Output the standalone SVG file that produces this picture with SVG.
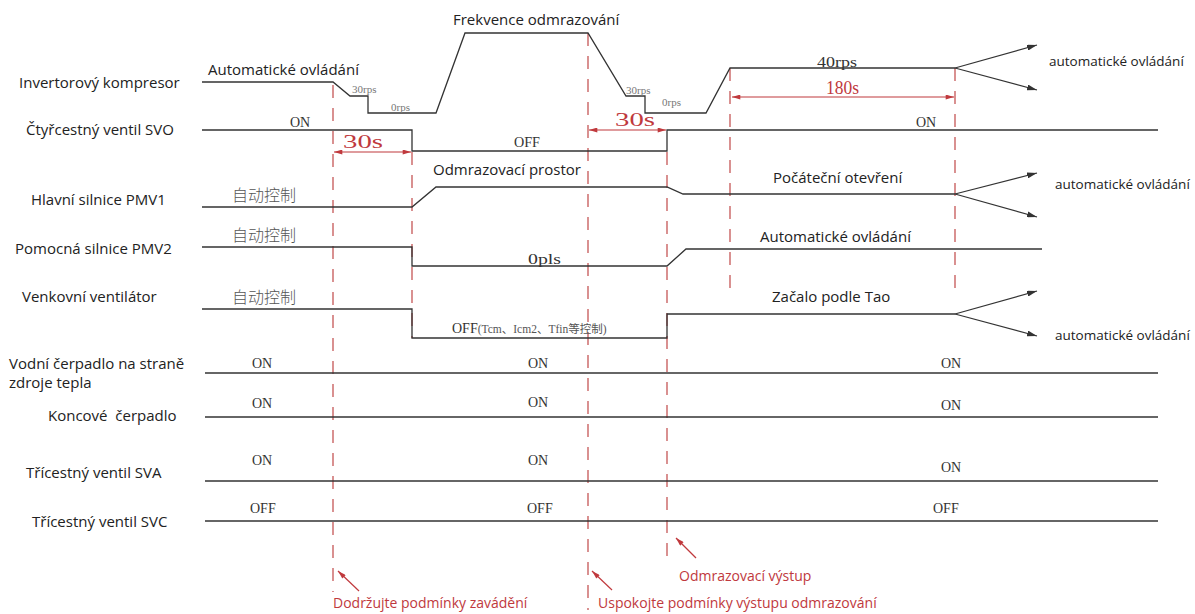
<svg xmlns="http://www.w3.org/2000/svg" width="1195" height="614" viewBox="0 0 1195 614">
<defs>
<style>
.lbl{font-family:"Open Sans","Liberation Sans",sans-serif;font-size:15px;fill:#222}
.sig{font-family:"Open Sans","Liberation Sans",sans-serif;font-size:15px;fill:#222}
.auto{font-family:"Open Sans","Liberation Sans",sans-serif;font-size:13.5px;fill:#222}
.ser{font-family:"Liberation Serif",serif;font-size:14px;fill:#333}
.sm{font-family:"Liberation Serif",serif;font-size:11px;fill:#777}
.cjk{font-family:"Noto Sans CJK SC",sans-serif;font-size:16px;fill:#555;font-weight:300}
.red{font-family:"Liberation Serif",serif;font-size:18px;fill:#c0393d}
.redt{font-family:"Open Sans","Liberation Sans",sans-serif;font-size:14px;fill:#c0393d}
.w{fill:none;stroke:#333;stroke-width:1.3}
.dash{fill:none;stroke:#c04848;stroke-width:1.2;stroke-dasharray:13 10}
.ra{fill:none;stroke:#c0393d;stroke-width:1.2}
.br{fill:none;stroke:#333;stroke-width:1.2;marker-end:url(#ah)}
</style>
<marker id="ah" viewBox="0 0 10 6" refX="10" refY="3" markerWidth="10" markerHeight="6" markerUnits="userSpaceOnUse" orient="auto">
<path d="M0,0 L10,3 L0,6 Z" fill="#333"/>
</marker>
<marker id="rh" viewBox="0 0 10 6" refX="10" refY="3" markerWidth="9" markerHeight="5" markerUnits="userSpaceOnUse" orient="auto-start-reverse">
<path d="M0,0 L10,3 L0,6 Z" fill="#c0393d"/>
</marker>
</defs>
<rect width="1195" height="614" fill="#fff"/>

<g id="labels">
<text class="lbl" x="19" y="88">Invertorový kompresor</text>
<text class="lbl" x="26" y="135">Čtyřcestný ventil SVO</text>
<text class="lbl" x="31" y="205">Hlavní silnice PMV1</text>
<text class="lbl" x="15" y="254">Pomocná silnice PMV2</text>
<text class="lbl" x="22" y="302">Venkovní ventilátor</text>
<text class="lbl" x="9" y="369">Vodní čerpadlo na straně</text>
<text class="lbl" x="9" y="388">zdroje tepla</text>
<text class="lbl" x="48" y="421" xml:space="preserve">Koncové  čerpadlo</text>
<text class="lbl" x="26" y="478">Třícestný ventil SVA</text>
<text class="lbl" x="32" y="527">Třícestný ventil SVC</text>
</g>

<g id="markers-time">
<line class="dash" x1="333" y1="85" x2="333" y2="592"/>
<line class="dash" x1="412" y1="152" x2="412" y2="338"/>
<line class="dash" x1="588" y1="33" x2="588" y2="610"/>
<line class="dash" x1="667" y1="152" x2="667" y2="565"/>
<line class="dash" x1="730" y1="68" x2="730" y2="288"/>
<line class="dash" x1="955" y1="68" x2="955" y2="290"/>
</g>

<g id="compressor">
<polyline class="w" points="202,82 333,82 350,96 368,96 368,113 436,113 465,33 588,33 626,96 645,96 645,113 706,113 730,68 955,68"/>
<line class="br" x1="955" y1="68" x2="1037" y2="45"/>
<line class="br" x1="955" y1="68" x2="1037" y2="90"/>
<text class="sig" x="208" y="75">Automatické ovládání</text>
<text class="sm" x="352" y="93">30rps</text>
<text class="sm" x="391" y="111">0rps</text>
<text class="sig" x="453" y="25">Frekvence odmrazování</text>
<text class="sm" x="626" y="94">30rps</text>
<text class="sm" x="662" y="106">0rps</text>
<text class="ser" x="817" y="67" font-size="17" textLength="40" lengthAdjust="spacingAndGlyphs">40rps</text>
<text class="red" x="826" y="94" font-size="17" textLength="33" lengthAdjust="spacingAndGlyphs">180s</text>
<line class="ra" x1="732" y1="97" x2="954" y2="97" marker-start="url(#rh)" marker-end="url(#rh)"/>
<text class="auto" x="1049" y="66">automatické ovládání</text>
</g>

<g id="svo">
<polyline class="w" points="202,130 412,130 412,151 667,151 667,130 1158,130"/>
<text class="ser" x="290" y="127">ON</text>
<text class="ser" x="514" y="147" textLength="26" lengthAdjust="spacingAndGlyphs">OFF</text>
<text class="ser" x="916" y="127">ON</text>
<text class="red" x="343" y="148" textLength="40" lengthAdjust="spacingAndGlyphs">30s</text>
<line class="ra" x1="334" y1="152" x2="411" y2="152" marker-start="url(#rh)" marker-end="url(#rh)"/>
<text class="red" x="615" y="126" textLength="40" lengthAdjust="spacingAndGlyphs">30s</text>
<line class="ra" x1="589" y1="130" x2="666" y2="130" marker-start="url(#rh)" marker-end="url(#rh)"/>
</g>

<g id="pmv1">
<polyline class="w" points="202,207 412,207 436,187 667,187 683,194 955,194"/>
<line class="br" x1="955" y1="194" x2="1037" y2="173"/>
<line class="br" x1="955" y1="194" x2="1037" y2="217"/>
<text class="cjk" x="232" y="201">自动控制</text>
<text class="sig" x="433" y="175">Odmrazovací prostor</text>
<text class="sig" x="773" y="183">Počáteční otevření</text>
<text class="auto" x="1055" y="189">automatické ovládání</text>
</g>

<g id="pmv2">
<polyline class="w" points="202,247 412,247 412,266 667,266 686,249 1042,249"/>
<text class="cjk" x="232" y="241">自动控制</text>
<text class="ser" x="528" y="264" font-size="16" textLength="33" lengthAdjust="spacingAndGlyphs">0pls</text>
<text class="sig" x="760" y="242">Automatické ovládání</text>
</g>

<g id="fan">
<polyline class="w" points="202,309 412,309 412,338 667,338 667,314 955,314"/>
<line class="br" x1="955" y1="314" x2="1037" y2="291"/>
<line class="br" x1="955" y1="314" x2="1037" y2="336"/>
<text class="cjk" x="232" y="303">自动控制</text>
<text class="ser" x="452" y="333" font-size="15">OFF<tspan font-family="Liberation Serif, Noto Sans CJK SC, serif" font-size="11.5" fill="#555">(Tcm、Icm2、Tfin等控制)</tspan></text>
<text class="sig" x="772" y="302">Začalo podle Tao</text>
<text class="auto" x="1055" y="340">automatické ovládání</text>
</g>

<g id="pump-source">
<line class="w" x1="205" y1="373" x2="1158" y2="373"/>
<text class="ser" x="252" y="368">ON</text>
<text class="ser" x="528" y="368">ON</text>
<text class="ser" x="941" y="368">ON</text>
</g>

<g id="pump-end">
<line class="w" x1="205" y1="417" x2="1158" y2="417"/>
<text class="ser" x="252" y="408">ON</text>
<text class="ser" x="528" y="407">ON</text>
<text class="ser" x="941" y="410">ON</text>
</g>

<g id="sva">
<line class="w" x1="205" y1="481" x2="1158" y2="481"/>
<text class="ser" x="252" y="465">ON</text>
<text class="ser" x="528" y="465">ON</text>
<text class="ser" x="941" y="472">ON</text>
</g>

<g id="svc">
<line class="w" x1="205" y1="521" x2="1158" y2="521"/>
<text class="ser" x="250" y="513">OFF</text>
<text class="ser" x="527" y="513">OFF</text>
<text class="ser" x="933" y="513">OFF</text>
</g>

<g id="notes">
<line class="ra" x1="359" y1="591" x2="338" y2="571" marker-end="url(#rh)"/>
<line class="ra" x1="612" y1="590" x2="592" y2="571" marker-end="url(#rh)"/>
<line class="ra" x1="696" y1="558" x2="676" y2="538" marker-end="url(#rh)"/>
<text class="redt" x="333" y="608">Dodržujte podmínky zavádění</text>
<text class="redt" x="598" y="608">Uspokojte podmínky výstupu odmrazování</text>
<text class="redt" x="679" y="581">Odmrazovací výstup</text>
</g>
</svg>
